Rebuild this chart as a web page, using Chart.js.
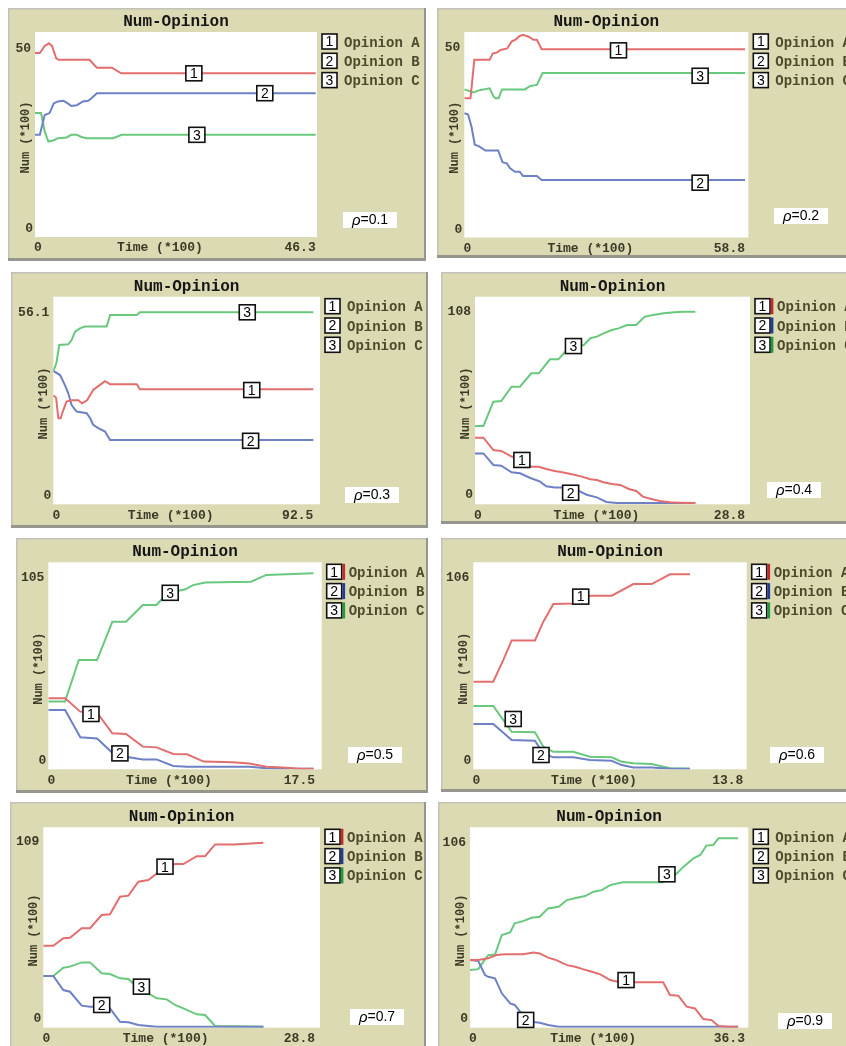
<!DOCTYPE html>
<html>
<head>
<meta charset="utf-8">
<title>Num-Opinion</title>
<script src="https://cdn.jsdelivr.net/npm/chart.js@4.4.1/dist/chart.umd.min.js"></script>
<style>
  html, body { margin: 0; padding: 0; background: #ffffff; }
  body { position: relative; width: 846px; height: 1046px; overflow: hidden; }
  canvas { position: absolute; display: block; }
</style>
</head>
<body>
<script>
// Each series point: [time (*100), number of agents (*100)]

// rho = 0.1
const p1OpinionA = [[0,48.9],[0.8,48.9],[1.6,50.8],[2.3,51.5],[2.8,50.8],[3.5,47.5],[3.9,47.1],[9.0,47.1],[10.2,45.0],[12.7,45.0],[14.2,43.5],[46.3,43.5]];
const p1OpinionB = [[0,27.1],[0.8,27.1],[1.6,32.4],[2.4,32.9],[3.1,35.5],[3.8,36.0],[4.7,36.2],[5.4,35.5],[6.0,34.8],[6.9,35.0],[7.9,36.0],[8.8,36.2],[9.4,37.0],[10.2,38.2],[46.3,38.2]];
const p1OpinionC = [[0,32.9],[1.0,32.9],[1.6,28.0],[2.2,25.3],[3.0,25.6],[3.8,26.2],[5.2,26.4],[6.0,27.1],[6.9,27.1],[7.7,26.5],[8.5,26.2],[12.9,26.2],[14.3,27.1],[46.3,27.1]];
const p1Marks = [[26.2,43.5],[37.9,38.2],[26.7,27.1]];

// rho = 0.2
const p2OpinionA = [[0,36.7],[1.3,36.7],[2.1,46.8],[5.3,46.8],[6.0,48.5],[6.8,48.7],[7.6,49.4],[9.0,49.8],[9.9,51.6],[10.8,52.2],[11.6,53.1],[12.3,53.4],[13.5,52.9],[14.5,52.1],[15.2,52.1],[16.2,49.6],[58.8,49.6]];
const p2OpinionB = [[0,32.7],[0.8,32.4],[1.5,29.2],[2.2,24.4],[3.2,23.9],[4.4,22.9],[7.1,22.9],[8.0,19.8],[8.9,19.5],[9.6,18.2],[10.6,17.3],[11.6,17.3],[12.3,16.2],[15.2,16.2],[16.2,15.1],[58.8,15.1]];
const p2OpinionC = [[0,39.0],[1.0,38.6],[1.9,38.2],[3.2,38.8],[5.3,39.3],[6.1,37.2],[6.5,36.7],[7.2,36.7],[7.9,39.0],[12.7,39.0],[13.8,39.9],[15.2,40.2],[16.4,43.3],[58.8,43.3]];
const p2Marks = [[32.3,49.3],[49.4,14.4],[49.4,42.6]];

// rho = 0.3
const p3OpinionA = [[0,31.8],[1.0,31.0],[1.8,25.0],[2.6,25.0],[3.6,27.5],[4.7,29.9],[6.5,30.3],[8.9,30.3],[10.2,29.4],[12.0,30.3],[14.2,33.3],[16.6,34.8],[18.4,35.9],[20.2,35.0],[29.7,35.0],[30.8,33.5],[92.5,33.5]];
const p3OpinionB = [[0,38.9],[2.4,37.7],[4.1,34.8],[5.3,32.4],[6.5,28.9],[8.3,27.0],[11.9,26.5],[13.1,25.0],[14.2,23.1],[16.0,22.1],[18.4,21.1],[20.2,18.6],[92.5,18.6]];
const p3OpinionC = [[0,38.9],[0.6,40.0],[1.2,41.6],[2.1,46.5],[5.3,46.7],[6.5,47.9],[7.7,50.4],[9.5,51.4],[11.3,51.9],[19.0,51.9],[20.2,55.3],[29.7,55.3],[30.8,56.1],[92.5,56.1]];
const p3Marks = [[70.6,33.3],[70.2,18.4],[69.0,56.1]];

// rho = 0.4
const p4OpinionA = [[0,36.9],[0.9,36.9],[1.96,29.9],[2.8,29.4],[3.9,26.2],[4.8,25.2],[5.3,21.8],[6.0,20.5],[6.8,20.5],[7.6,19.2],[8.5,18.1],[9.0,17.7],[9.8,16.8],[10.7,15.8],[11.4,14.9],[12.3,13.4],[13.0,13.0],[13.7,11.7],[14.6,10.7],[15.5,10.2],[16.4,7.9],[17.2,6.8],[17.9,3.6],[18.8,2.3],[19.7,1.1],[20.8,0.4],[21.9,0.2],[23.5,0]];
const p4OpinionB = [[0,28.0],[0.9,28.0],[1.96,21.5],[2.8,21.1],[3.9,17.3],[4.8,16.8],[5.9,14.1],[6.9,12.2],[7.6,9.4],[8.5,8.8],[9.8,8.8],[10.8,7.5],[11.9,4.7],[13.0,3.2],[14.0,0.6],[15.1,0],[23.5,0]];
const p4OpinionC = [[0,43.5],[0.9,43.5],[1.96,57.2],[2.8,57.6],[3.9,65.7],[4.8,65.7],[6.0,73.2],[6.8,73.2],[8.0,81.1],[8.9,81.1],[9.8,86.4],[10.7,88.3],[11.6,89.2],[12.3,93.0],[13.0,93.9],[13.7,95.8],[14.6,97.7],[15.3,98.6],[16.2,100.5],[17.2,100.5],[18.1,105.2],[19.0,106.2],[20.1,107.1],[21.3,107.7],[22.2,108.0],[23.5,108.0]];
const p4Marks = [[5.0,24.3],[10.2,5.8],[10.5,88.6]];

// rho = 0.5
const p5OpinionA = [[0,38.6],[1.1,38.6],[2.1,31.3],[3.2,30.7],[4.2,19.4],[5.1,19.0],[6.2,12.1],[7.1,11.7],[8.2,8.1],[9.1,7.9],[10.2,3.9],[12.1,3.5],[13.2,2.9],[14.3,1.1],[15.4,0.7],[16.5,0],[17.4,0]];
const p5OpinionB = [[0,32.2],[1.1,32.2],[2.1,17.2],[3.2,16.6],[4.2,8.7],[5.1,6.5],[6.2,5.1],[7.1,5.1],[8.2,1.5],[9.1,1.1],[13.2,1.1],[14.3,0.2],[15.4,0],[17.4,0]];
const p5OpinionC = [[0,36.8],[1.1,36.8],[2.0,59.6],[3.2,59.6],[4.2,80.6],[5.1,80.6],[6.2,89.8],[7.1,89.8],[7.8,96.2],[9.0,98.4],[9.5,100.7],[10.3,102.2],[13.3,102.6],[14.3,106.3],[17.4,107.2]];
const p5Marks = [[2.8,30.0],[4.7,8.4],[8.0,96.5]];

// rho = 0.6
const p6OpinionA = [[0,48.3],[1.02,48.3],[1.53,60.3],[1.96,71.2],[3.15,71.2],[3.58,81.6],[4.09,91.4],[5.11,91.7],[5.96,96.0],[7.07,96.0],[8.18,102.5],[9.11,102.5],[10.05,107.9],[11.07,107.9]];
const p6OpinionB = [[0,24.8],[1.02,24.8],[1.96,15.9],[3.15,15.5],[3.58,8.5],[4.09,6.3],[5.11,6.3],[5.96,4.8],[7.07,4.4],[7.58,2.0],[8.18,0.7],[9.11,0.6],[10.05,0],[11.07,0]];
const p6OpinionC = [[0,34.8],[1.02,34.8],[1.96,20.5],[3.15,20.2],[3.58,12.2],[4.09,9.4],[5.11,9.4],[5.96,6.7],[7.07,6.3],[7.58,3.9],[8.18,3.0],[9.11,2.6],[10.05,0.2],[11.07,0]];
const p6Marks = [[5.49,95.5],[3.46,7.6],[2.04,27.6]];

// rho = 0.7
const p7OpinionA = [[0,47.7],[1.06,47.7],[2.12,52.1],[2.83,52.4],[4.07,58.0],[4.95,58.0],[6.19,65.8],[7.07,66.2],[8.13,76.6],[9.02,77.2],[10.08,85.4],[11.14,86.4],[12.02,90.3],[13.08,94.3],[13.97,95.8],[14.85,95.8],[16.26,100.5],[17.15,100.5],[18.21,107.4],[20.15,107.4],[21.57,107.8],[23.33,108.4]];
const p7OpinionB = [[0,29.9],[1.06,29.9],[2.12,21.6],[2.83,20.6],[4.07,12.4],[4.95,11.8],[6.19,11.8],[7.07,10.8],[8.13,2.9],[9.02,2.6],[10.08,1.0],[11.14,0.4],[12.02,0],[23.33,0]];
const p7OpinionC = [[0,29.9],[1.06,29.9],[2.12,34.8],[2.83,35.4],[4.07,37.9],[4.95,37.9],[6.19,31.5],[7.07,31.0],[8.13,28.5],[9.02,28.1],[10.08,22.6],[11.14,19.6],[12.02,16.7],[13.08,16.1],[13.97,12.8],[14.85,10.8],[16.26,7.3],[17.15,6.9],[18.21,0.4],[23.33,0]];
const p7Marks = [[12.9,94.3],[6.19,12.8],[10.4,23.6]];

// rho = 0.9
const p8OpinionA = [[0,38.3],[1.1,38.3],[2.4,39.3],[3.5,41.2],[4.6,41.6],[7.0,41.6],[8.4,42.7],[9.2,42.1],[10.3,39.7],[11.4,38.3],[12.8,35.4],[13.9,34.5],[14.9,33.1],[16.1,31.6],[17.2,30.1],[18.5,26.8],[19.8,25.5],[25.5,25.5],[26.4,18.2],[27.5,17.8],[28.6,11.5],[29.7,10.5],[30.8,4.4],[31.9,3.8],[32.8,0.4],[34.1,0],[35.4,0]];
const p8OpinionB = [[0,38.3],[1.1,37.7],[1.98,29.7],[2.4,28.7],[3.3,27.8],[4.2,19.2],[5.3,13.4],[5.9,12.5],[7.0,6.7],[7.9,2.9],[9.2,2.3],[10.3,1.0],[11.7,0],[35.4,0]];
const p8OpinionC = [[0,32.6],[1.1,33.1],[1.76,37.3],[2.4,41.1],[3.3,41.5],[4.2,52.7],[5.3,54.2],[5.9,59.4],[7.0,60.7],[8.1,62.6],[9.2,63.2],[10.3,68.0],[11.7,68.9],[12.8,72.8],[14.1,74.1],[15.2,75.1],[16.3,77.6],[17.4,78.5],[18.5,81.4],[20.2,83.0],[25.5,83.0],[27.3,88.1],[28.2,92.0],[29.5,96.8],[30.4,98.7],[31.2,104.1],[32.1,104.4],[32.8,108.3],[35.4,108.3]];
const p8Marks = [[20.6,26.8],[7.35,3.9],[26.0,87.6]];

// labels shown on each plot
const rhoValues = ['0.1', '0.2', '0.3', '0.4', '0.5', '0.6', '0.7', '0.9'];
const yAxisMaxLabels = [50, 50, 56.1, 108, 105, 106, 109, 106];
const xAxisMaxLabels = [46.3, 58.8, 92.5, 28.8, 17.5, 13.8, 28.8, 36.3];
const seriesNames = ['Opinion A', 'Opinion B', 'Opinion C'];

const panelSeries = [
  [p1OpinionA, p1OpinionB, p1OpinionC],
  [p2OpinionA, p2OpinionB, p2OpinionC],
  [p3OpinionA, p3OpinionB, p3OpinionC],
  [p4OpinionA, p4OpinionB, p4OpinionC],
  [p5OpinionA, p5OpinionB, p5OpinionC],
  [p6OpinionA, p6OpinionB, p6OpinionC],
  [p7OpinionA, p7OpinionB, p7OpinionC],
  [p8OpinionA, p8OpinionB, p8OpinionC]
];
const panelMarks = [p1Marks, p2Marks, p3Marks, p4Marks, p5Marks, p6Marks, p7Marks, p8Marks];

// widget geometry on the page: frame / plot = [left, top, right, bottom]
// y = [scale min, scale max], xMax = scale max (plot keeps a small margin past the last tick)
const layouts = [
  { frame: [8, 8, 426, 261],    plot: [35, 32, 317, 237],          y: [-0.15, 54.52], xMax: 46.51, rhoBox: [343, 212], bars: false },
  { frame: [437, 8, 850, 258],  plot: [464.3, 32, 748.3, 237.5],   y: [-0.05, 54.14], xMax: 59.49, rhoBox: [774, 208], bars: false },
  { frame: [11, 272, 428, 528], plot: [53.3, 296.7, 320, 504.3],   y: [-0.23, 60.68], xMax: 94.88, rhoBox: [345, 487], bars: false },
  { frame: [441, 272, 850, 524],plot: [475, 296.7, 750, 504.3],    y: [-0.73, 116.47], xMax: 29.33, rhoBox: [767, 482], bars: true },
  { frame: [16, 538, 428, 793], plot: [48.3, 562.3, 321.7, 769.3], y: [-0.33, 113.23], xMax: 17.94, rhoBox: [348, 747], bars: true },
  { frame: [441, 538, 850, 792],plot: [473.3, 562.3, 746.7, 769.3],y: [-0.33, 114.55], xMax: 13.97, rhoBox: [770, 747], bars: true },
  { frame: [10, 802, 426, 1050],plot: [43.3, 827.3, 320, 1027.7],  y: [-0.59, 117.49], xMax: 29.33, rhoBox: [350, 1009], bars: true },
  { frame: [438, 802, 850, 1050],plot: [470, 827.3, 748.3, 1027.7],y: [-0.57, 114.62], xMax: 36.74, rhoBox: [778, 1013], bars: false }
];

const LINE_COLORS = ['rgb(226,110,110)', 'rgb(110,128,198)', 'rgb(104,200,126)'];
const BAR_COLORS = ['#c42a2a', '#1f3d9e', '#1f9a3c'];
const BEIGE = '#dcdab3';
const MONO = '"Liberation Mono", "DejaVu Sans Mono", monospace';
const SANS = '"Liberation Sans", Arial, sans-serif';

function numberBox(ctx, cx, cy, n) {
  const w = 16, h = 15;
  ctx.fillStyle = '#ffffff';
  ctx.fillRect(cx - w / 2, cy - h / 2, w, h);
  ctx.strokeStyle = '#111111';
  ctx.lineWidth = 1.6;
  ctx.strokeRect(cx - w / 2, cy - h / 2, w, h);
  ctx.fillStyle = '#000000';
  ctx.font = '14px ' + SANS;
  ctx.textAlign = 'center';
  ctx.textBaseline = 'middle';
  ctx.fillText(String(n), cx, cy + 1);
}

function makePlotPlugin(i) {
  const L = layouts[i];
  return {
    id: 'netlogoPlot' + i,
    beforeDraw(chart) {
      const { ctx, width, height, chartArea: a } = chart;
      ctx.save();
      ctx.fillStyle = BEIGE;
      ctx.fillRect(0, 0, width, height);
      ctx.fillStyle = '#c2c2b8';
      ctx.fillRect(0, 0, width, 1.5);
      ctx.fillRect(0, 0, 1.5, height);
      ctx.fillStyle = '#96968c';
      ctx.fillRect(0, height - 3, width, 3);
      ctx.fillRect(width - 2, 0, 2, height);
      ctx.fillStyle = '#ffffff';
      ctx.fillRect(a.left, a.top, a.right - a.left, a.bottom - a.top);
      ctx.restore();
    },
    afterDatasetsDraw(chart) {
      const { ctx, chartArea: a, scales } = chart;
      const xs = scales.x, ys = scales.y;
      ctx.save();

      // numbered tags on the curves
      panelMarks[i].forEach((m, k) => {
        numberBox(ctx, xs.getPixelForValue(m[0]), ys.getPixelForValue(m[1]), k + 1);
      });

      // title
      ctx.fillStyle = '#161616';
      ctx.font = 'bold 16px ' + MONO;
      ctx.textAlign = 'center';
      ctx.textBaseline = 'middle';
      ctx.fillText('Num-Opinion', (a.left + a.right) / 2, a.top - 10);

      // y axis range labels
      ctx.fillStyle = '#3a3a26';
      ctx.font = 'bold 13px ' + MONO;
      ctx.textAlign = 'right';
      ctx.fillText(String(yAxisMaxLabels[i]), a.left - 4, ys.getPixelForValue(yAxisMaxLabels[i]));
      ctx.fillText('0', a.left - 2, ys.getPixelForValue(0) - 8);

      // x axis range labels and name
      const xy = a.bottom + 11;
      ctx.textAlign = 'center';
      ctx.fillText('0', xs.getPixelForValue(0) + 3, xy);
      ctx.fillText('Time (*100)', (a.left + a.right) / 2 - 16, xy);
      ctx.textAlign = 'right';
      ctx.fillText(String(xAxisMaxLabels[i]), xs.getPixelForValue(xAxisMaxLabels[i]), xy);

      // y axis name
      ctx.save();
      ctx.translate(a.left - 9, (a.top + a.bottom) / 2 + 3);
      ctx.rotate(-Math.PI / 2);
      ctx.textAlign = 'center';
      ctx.font = 'bold 12px ' + MONO;
      ctx.fillText('Num (*100)', 0, 0);
      ctx.restore();

      // legend
      seriesNames.forEach((name, k) => {
        const bx = a.right + 5, by = a.top + 2 + k * 19.3;
        ctx.fillStyle = '#ffffff';
        ctx.fillRect(bx, by, 15, 15);
        ctx.strokeStyle = '#111111';
        ctx.lineWidth = 1.6;
        ctx.strokeRect(bx, by, 15, 15);
        if (L.bars) {
          ctx.fillStyle = BAR_COLORS[k];
          ctx.fillRect(bx + 15.8, by - 0.5, 2.6, 16);
        }
        ctx.fillStyle = '#000000';
        ctx.font = '14px ' + SANS;
        ctx.textAlign = 'center';
        ctx.textBaseline = 'middle';
        ctx.fillText(String(k + 1), bx + 7.5, by + 8.5);
        ctx.fillStyle = '#4c4a2a';
        ctx.font = 'bold 14px ' + MONO;
        ctx.textAlign = 'left';
        ctx.fillText(name, a.right + 27, a.top + 11 + k * 19.3);
      });

      // rho tag
      const rx = L.rhoBox[0] - L.frame[0], ry = L.rhoBox[1] - L.frame[1];
      ctx.fillStyle = '#ffffff';
      ctx.fillRect(rx, ry, 54, 16);
      ctx.fillStyle = '#000000';
      ctx.textBaseline = 'middle';
      ctx.textAlign = 'left';
      ctx.font = 'italic 15px ' + SANS;
      const rw = ctx.measureText('\u03c1').width;
      ctx.font = '14px ' + SANS;
      const tw = ctx.measureText('=' + rhoValues[i]).width;
      const sx = rx + (54 - rw - tw) / 2;
      ctx.font = 'italic 15px ' + SANS;
      ctx.fillText('\u03c1', sx, ry + 8.5);
      ctx.font = '14px ' + SANS;
      ctx.fillText('=' + rhoValues[i], sx + rw, ry + 8.5);

      ctx.restore();
    }
  };
}

layouts.forEach((L, i) => {
  const [fl, ft, fr, fb] = L.frame;
  const [pl, pt, pr, pb] = L.plot;
  const canvas = document.createElement('canvas');
  canvas.width = fr - fl;
  canvas.height = fb - ft;
  canvas.style.left = fl + 'px';
  canvas.style.top = ft + 'px';
  canvas.style.width = (fr - fl) + 'px';
  canvas.style.height = (fb - ft) + 'px';
  document.body.appendChild(canvas);

  new Chart(canvas, {
    type: 'line',
    data: {
      datasets: panelSeries[i].map((s, k) => ({
        label: seriesNames[k],
        data: s.map(p => ({ x: p[0], y: p[1] })),
        borderColor: LINE_COLORS[k],
        borderWidth: 2,
        pointRadius: 0,
        tension: 0,
        fill: false
      }))
    },
    options: {
      responsive: false,
      animation: false,
      devicePixelRatio: 1,
      layout: { padding: { left: pl - fl, top: pt - ft, right: fr - pr, bottom: fb - pb } },
      scales: {
        x: { type: 'linear', min: 0, max: L.xMax, display: false },
        y: { type: 'linear', min: L.y[0], max: L.y[1], display: false }
      },
      plugins: { legend: { display: false }, tooltip: { enabled: false }, title: { display: false } }
    },
    plugins: [makePlotPlugin(i)]
  });
});
</script>
</body>
</html>
